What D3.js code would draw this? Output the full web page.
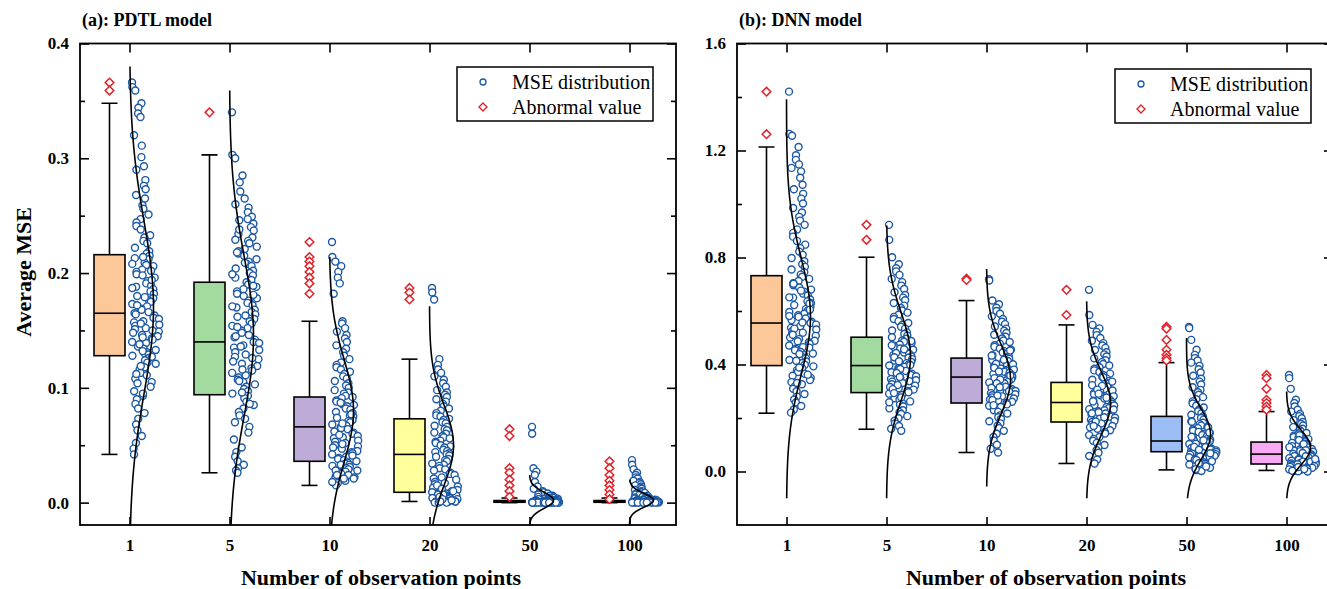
<!DOCTYPE html>
<html><head><meta charset="utf-8">
<script src="https://cdn.jsdelivr.net/npm/d3@7"></script>
<style>body{margin:0;background:#fff}svg{display:block}</style>
</head><body>
<svg id="c" width="1327" height="589"></svg>
<script>
// ---------------- DATA ----------------
const categories = ["1", "5", "10", "20", "50", "100"];
const boxColors = ["#FDC899", "#A2DA9F", "#BEACD8", "#FFFF9C", "#9DBEF4", "#F8A9F3"];

// (a) PDTL model
const pdtlWhiskerLow = [0.042, 0.026, 0.015, 0.001, 0.0, 0.0];
const pdtlQ1 = [0.128, 0.094, 0.036, 0.009, 0.0003, 0.0003];
const pdtlMedian = [0.165, 0.140, 0.066, 0.042, 0.0008, 0.0008];
const pdtlQ3 = [0.216, 0.192, 0.092, 0.073, 0.0018, 0.0018];
const pdtlWhiskerHigh = [0.348, 0.303, 0.158, 0.125, 0.004, 0.004];
const pdtlOutliers1 = [0.366, 0.359];
const pdtlOutliers5 = [0.340];
const pdtlOutliers10 = [0.227, 0.214, 0.210, 0.206, 0.201, 0.196, 0.191, 0.182];
const pdtlOutliers20 = [0.187, 0.183, 0.177];
const pdtlOutliers50 = [0.064, 0.058, 0.030, 0.026, 0.020, 0.015, 0.010, 0.005];
const pdtlOutliers100 = [0.036, 0.030, 0.024, 0.019, 0.015, 0.011, 0.007, 0.003];
const pdtlCurveMean = [0.170, 0.145, 0.080, 0.050, 0.002, 0.002];
const pdtlCurveSd = [0.075, 0.070, 0.045, 0.035, 0.007, 0.006];
const pdtlCurveTop = [0.380, 0.359, 0.214, 0.171, 0.024, 0.020];
const pdtlCurveBottom = [-0.0195, -0.0195, -0.0195, -0.0195, -0.0195, -0.0195];
const pdtlPts1 = [0.366,0.362,0.359,0.348,0.344,0.339,0.336,0.320,0.311,0.301,0.293,0.290,0.281,0.276,0.273,0.268,0.265,0.259,0.256,0.251,0.247,0.244,0.241,0.238,0.233,0.231,0.228,0.226,0.222,0.219,0.217,0.215,0.213,0.212,0.209,0.207,0.206,0.203,0.201,0.199,0.198,0.196,0.193,0.191,0.189,0.188,0.186,0.184,0.182,0.180,0.178,0.176,0.175,0.173,0.171,0.169,0.168,0.166,0.165,0.163,0.161,0.160,0.158,0.157,0.155,0.154,0.152,0.151,0.149,0.148,0.146,0.145,0.143,0.142,0.140,0.139,0.137,0.136,0.134,0.133,0.131,0.130,0.129,0.128,0.126,0.124,0.122,0.121,0.118,0.116,0.113,0.111,0.108,0.105,0.101,0.097,0.093,0.090,0.086,0.082,0.078,0.073,0.068,0.063,0.058,0.052,0.047,0.042,0.214,0.208,0.202,0.194,0.187,0.179,0.172,0.164,0.156,0.150,0.144,0.138,0.132,0.127,0.119,0.112,0.104,0.095];
const pdtlPts5 = [0.340,0.303,0.300,0.285,0.279,0.271,0.265,0.260,0.257,0.253,0.249,0.246,0.243,0.240,0.237,0.234,0.231,0.228,0.226,0.223,0.221,0.219,0.217,0.215,0.212,0.210,0.208,0.206,0.204,0.202,0.200,0.198,0.196,0.194,0.192,0.190,0.188,0.186,0.184,0.182,0.180,0.178,0.176,0.174,0.172,0.170,0.168,0.166,0.164,0.162,0.160,0.158,0.156,0.154,0.152,0.150,0.148,0.146,0.144,0.142,0.140,0.139,0.137,0.135,0.133,0.131,0.129,0.127,0.125,0.123,0.121,0.119,0.117,0.115,0.113,0.111,0.109,0.107,0.105,0.103,0.101,0.099,0.097,0.095,0.093,0.091,0.088,0.085,0.082,0.079,0.076,0.073,0.070,0.066,0.061,0.055,0.048,0.044,0.040,0.036,0.033,0.030,0.028,0.026,0.247,0.238,0.229,0.218,0.209,0.199,0.189,0.181,0.171,0.163,0.153,0.145,0.136,0.126,0.116,0.106,0.096,0.086];
const pdtlPts10 = [0.227,0.214,0.210,0.206,0.201,0.196,0.191,0.182,0.158,0.156,0.152,0.149,0.146,0.143,0.140,0.137,0.134,0.131,0.128,0.125,0.122,0.120,0.118,0.116,0.114,0.112,0.110,0.108,0.106,0.104,0.102,0.100,0.098,0.096,0.095,0.093,0.092,0.091,0.089,0.088,0.086,0.085,0.084,0.082,0.081,0.079,0.078,0.076,0.075,0.074,0.072,0.071,0.070,0.068,0.067,0.066,0.065,0.064,0.062,0.061,0.060,0.058,0.057,0.056,0.054,0.053,0.052,0.050,0.049,0.048,0.047,0.045,0.044,0.043,0.042,0.040,0.039,0.038,0.037,0.036,0.035,0.034,0.033,0.032,0.031,0.030,0.029,0.028,0.027,0.026,0.025,0.024,0.023,0.022,0.021,0.020,0.019,0.017,0.015,0.087,0.077,0.069,0.059,0.051,0.041,0.033,0.028,0.024,0.021,0.018];
const pdtlPts20 = [0.187,0.183,0.177,0.125,0.120,0.116,0.113,0.110,0.107,0.104,0.101,0.098,0.096,0.094,0.092,0.090,0.088,0.086,0.084,0.082,0.080,0.078,0.076,0.075,0.073,0.072,0.070,0.069,0.067,0.066,0.064,0.063,0.061,0.060,0.058,0.057,0.056,0.054,0.053,0.052,0.050,0.049,0.048,0.046,0.045,0.044,0.043,0.042,0.041,0.040,0.038,0.037,0.036,0.034,0.033,0.032,0.030,0.029,0.028,0.026,0.025,0.024,0.022,0.021,0.020,0.018,0.017,0.016,0.014,0.013,0.012,0.011,0.010,0.009,0.009,0.008,0.008,0.007,0.007,0.006,0.006,0.005,0.005,0.004,0.004,0.003,0.003,0.003,0.002,0.002,0.002,0.001,0.001,0.001,0.001,0.000,0.000,0.000,0.015,0.012,0.010,0.007,0.005,0.003,0.002,0.001];
const pdtlPts50 = [0.066,0.060,0.030,0.027,0.024,0.018,0.014,0.012,0.010,0.009,0.008,0.007,0.006,0.006,0.005,0.005,0.0045,0.004,0.004,0.0035,0.0035,0.003,0.003,0.003,0.0025,0.0025,0.0025,0.002,0.002,0.002,0.002,0.0018,0.0016,0.0015,0.0015,0.0014,0.0013,0.0012,0.0012,0.0011,0.001,0.001,0.001,0.0009,0.0009,0.0008,0.0008,0.0007,0.0007,0.0007,0.0006,0.0006,0.0006,0.0005,0.0005,0.0005,0.0005,0.0004,0.0004,0.0004,0.0004,0.0003,0.0003,0.0003,0.0003,0.0003,0.0002,0.0002,0.0002,0.0002,0.0002,0.0002,0.0001,0.0001,0.0001,0.0001,0.0001,0.0001,0,0,0,0,0,0];
const pdtlPts100 = [0.037,0.033,0.029,0.026,0.024,0.022,0.021,0.019,0.018,0.017,0.016,0.015,0.014,0.013,0.012,0.011,0.010,0.0095,0.009,0.0085,0.008,0.0075,0.007,0.0065,0.006,0.0055,0.005,0.005,0.0045,0.004,0.004,0.0035,0.0035,0.003,0.003,0.003,0.0025,0.0025,0.002,0.002,0.002,0.002,0.0018,0.0016,0.0015,0.0014,0.0013,0.0012,0.0011,0.001,0.001,0.0009,0.0009,0.0008,0.0008,0.0007,0.0007,0.0006,0.0006,0.0005,0.0005,0.0005,0.0004,0.0004,0.0004,0.0003,0.0003,0.0003,0.0003,0.0002,0.0002,0.0002,0.0002,0.0001,0.0001,0.0001,0.0001,0,0,0,0];
const pdtlMajorTicks = [0.0, 0.1, 0.2, 0.3, 0.4];
const pdtlMinorTicks = [0.05, 0.15, 0.25, 0.35];

// (b) DNN model
const dnnWhiskerLow = [0.218, 0.158, 0.071, 0.030, 0.006, 0.004];
const dnnQ1 = [0.396, 0.295, 0.256, 0.185, 0.074, 0.028];
const dnnMedian = [0.555, 0.396, 0.353, 0.258, 0.114, 0.065];
const dnnQ3 = [0.732, 0.502, 0.424, 0.333, 0.206, 0.110];
const dnnWhiskerHigh = [1.213, 0.801, 0.639, 0.548, 0.407, 0.224];
const dnnOutliers1 = [1.420, 1.261];
const dnnOutliers5 = [0.922, 0.866];
const dnnOutliers10 = [0.721, 0.716];
const dnnOutliers20 = [0.679, 0.585];
const dnnOutliers50 = [0.541, 0.534, 0.492, 0.455, 0.436, 0.424, 0.415];
const dnnOutliers100 = [0.361, 0.349, 0.309, 0.268, 0.256, 0.243, 0.231];
const dnnCurveMean = [0.58, 0.43, 0.345, 0.255, 0.14, 0.09];
const dnnCurveSd = [0.22, 0.165, 0.13, 0.12, 0.095, 0.065];
const dnnCurveTop = [1.392, 0.92, 0.757, 0.636, 0.499, 0.299];
const dnnCurveBottom = [-0.1, -0.1, -0.056, -0.1, -0.1, -0.1];
const dnnPts1 = [1.420,1.262,1.255,1.213,1.182,1.165,1.148,1.135,1.122,1.098,1.072,1.055,1.038,1.020,1.002,0.985,0.968,0.952,0.938,0.922,0.905,0.892,0.878,0.862,0.848,0.835,0.822,0.810,0.798,0.786,0.775,0.765,0.755,0.745,0.736,0.728,0.720,0.712,0.704,0.696,0.688,0.680,0.672,0.665,0.658,0.650,0.643,0.636,0.629,0.622,0.615,0.608,0.602,0.596,0.590,0.584,0.578,0.572,0.566,0.560,0.555,0.549,0.543,0.537,0.531,0.525,0.519,0.513,0.507,0.501,0.495,0.489,0.483,0.477,0.471,0.465,0.459,0.453,0.447,0.441,0.435,0.429,0.423,0.417,0.411,0.405,0.399,0.393,0.386,0.379,0.372,0.365,0.358,0.350,0.342,0.334,0.326,0.318,0.309,0.300,0.290,0.280,0.269,0.258,0.245,0.232,0.220,0.702,0.676,0.651,0.628,0.605,0.581,0.557,0.534,0.511,0.487,0.463,0.439,0.414,0.389,0.362,0.331];
const dnnPts5 = [0.922,0.866,0.801,0.775,0.760,0.748,0.735,0.720,0.708,0.695,0.682,0.670,0.660,0.650,0.640,0.630,0.620,0.611,0.602,0.594,0.586,0.578,0.570,0.562,0.555,0.548,0.541,0.534,0.527,0.520,0.514,0.508,0.502,0.496,0.490,0.485,0.480,0.475,0.470,0.465,0.460,0.455,0.450,0.445,0.440,0.435,0.430,0.425,0.420,0.415,0.410,0.405,0.400,0.396,0.391,0.386,0.381,0.376,0.371,0.366,0.361,0.356,0.351,0.346,0.341,0.336,0.331,0.326,0.321,0.316,0.311,0.306,0.301,0.296,0.291,0.286,0.280,0.274,0.268,0.262,0.256,0.250,0.243,0.236,0.229,0.222,0.215,0.207,0.199,0.190,0.180,0.170,0.160,0.152,0.488,0.472,0.457,0.443,0.427,0.412,0.398,0.383,0.368,0.353,0.338,0.323,0.308,0.293,0.277,0.259];
const dnnPts10 = [0.719,0.714,0.639,0.625,0.612,0.600,0.590,0.580,0.570,0.560,0.551,0.542,0.534,0.526,0.518,0.511,0.504,0.497,0.490,0.484,0.478,0.472,0.466,0.460,0.455,0.450,0.445,0.440,0.435,0.430,0.425,0.421,0.417,0.413,0.409,0.405,0.401,0.397,0.393,0.389,0.385,0.381,0.377,0.373,0.369,0.365,0.361,0.357,0.353,0.349,0.345,0.341,0.337,0.333,0.329,0.325,0.321,0.317,0.313,0.309,0.305,0.301,0.297,0.293,0.289,0.285,0.281,0.277,0.273,0.269,0.265,0.261,0.256,0.251,0.246,0.241,0.235,0.229,0.223,0.217,0.210,0.203,0.196,0.188,0.180,0.171,0.162,0.152,0.141,0.129,0.116,0.100,0.085,0.071,0.452,0.433,0.418,0.403,0.388,0.374,0.359,0.344,0.330,0.315,0.300,0.284,0.267,0.248];
const dnnPts20 = [0.679,0.585,0.548,0.535,0.522,0.510,0.499,0.489,0.480,0.471,0.462,0.454,0.446,0.438,0.430,0.423,0.416,0.409,0.402,0.396,0.390,0.384,0.378,0.372,0.366,0.360,0.354,0.348,0.343,0.338,0.333,0.328,0.323,0.318,0.313,0.308,0.303,0.298,0.293,0.289,0.285,0.281,0.277,0.273,0.269,0.265,0.261,0.257,0.253,0.249,0.245,0.241,0.237,0.233,0.229,0.225,0.221,0.217,0.213,0.209,0.205,0.201,0.197,0.193,0.189,0.185,0.180,0.175,0.170,0.165,0.160,0.154,0.148,0.142,0.136,0.129,0.122,0.115,0.107,0.099,0.090,0.080,0.070,0.058,0.045,0.030,0.352,0.336,0.320,0.306,0.291,0.276,0.262,0.247,0.232,0.218,0.203,0.187,0.170];
const dnnPts50 = [0.540,0.536,0.492,0.455,0.436,0.424,0.415,0.407,0.395,0.382,0.370,0.358,0.347,0.336,0.325,0.315,0.305,0.296,0.287,0.278,0.270,0.262,0.254,0.246,0.239,0.232,0.225,0.218,0.212,0.206,0.200,0.194,0.188,0.182,0.177,0.172,0.167,0.162,0.157,0.152,0.148,0.144,0.140,0.136,0.132,0.128,0.124,0.121,0.118,0.115,0.112,0.109,0.106,0.103,0.100,0.097,0.094,0.091,0.088,0.085,0.082,0.079,0.077,0.075,0.073,0.071,0.069,0.067,0.065,0.063,0.061,0.059,0.057,0.055,0.053,0.050,0.047,0.044,0.041,0.038,0.035,0.032,0.029,0.026,0.023,0.020,0.017,0.014,0.011,0.008,0.005,0.002,0.186,0.164,0.146,0.130,0.117,0.104,0.092,0.081,0.068,0.056,0.043,0.031,0.019,0.009];
const dnnPts100 = [0.361,0.349,0.309,0.268,0.256,0.243,0.231,0.224,0.215,0.207,0.199,0.192,0.185,0.178,0.172,0.166,0.160,0.154,0.149,0.144,0.139,0.134,0.129,0.125,0.121,0.117,0.113,0.110,0.107,0.104,0.101,0.098,0.095,0.092,0.089,0.086,0.084,0.082,0.080,0.078,0.076,0.074,0.072,0.070,0.068,0.066,0.064,0.062,0.060,0.058,0.056,0.054,0.052,0.050,0.048,0.046,0.044,0.042,0.040,0.038,0.036,0.034,0.032,0.030,0.028,0.026,0.024,0.022,0.020,0.018,0.016,0.014,0.012,0.010,0.008,0.006,0.004,0.002,0.001,0.000,0.135,0.118,0.103,0.091,0.079,0.069,0.057,0.047,0.037,0.027,0.017,0.009,0.003];
const dnnMajorTicks = [0.0, 0.4, 0.8, 1.2, 1.6];
const dnnMinorTicks = [0.2, 0.6, 1.0, 1.4];

const legendLabels = ["MSE distribution", "Abnormal value"];
const panelTitles = ["(a): PDTL model", "(b): DNN model"];
const xTitle = "Number of observation points";
const yTitle = "Average MSE";

// ---------------- DRAW ----------------
const FONT = "'Liberation Serif','Times New Roman',serif";
const PT_STROKE = "#1C58A3", OUT_STROKE = "#E0232B";
const TOP = 43.5, BOTTOM = 525;
const svg = d3.select("#c");
const defs = svg.append("defs");

// deterministic, irregular spread factor for the horizontal placement of points (layout only)
const spread = k => (k * k * 0.6180339887 + k * 0.4142135624) % 1;

function drawPanel(p) {
  const x = d3.scaleLinear().domain([-0.495, 5.465]).range([p.left, p.right]);
  const y = d3.scaleLinear().domain(p.yDomain).range([BOTTOM, TOP]);
  const g = svg.append("g");
  defs.append("clipPath").attr("id", "clip" + p.id)
    .append("rect").attr("x", p.left).attr("y", TOP).attr("width", p.right - p.left).attr("height", BOTTOM - TOP);
  const plot = g.append("g").attr("clip-path", `url(#clip${p.id})`);

  const boxW = 31, capW = 16, boxOff = -20;
  categories.forEach((c, i) => {
    const bx = x(i) + boxOff;
    const cg = plot.append("g");
    cg.append("line").attr("x1", bx).attr("x2", bx).attr("y1", y(p.whiskerLow[i])).attr("y2", y(p.q1[i]))
      .attr("stroke", "#000").attr("stroke-width", 1.6);
    cg.append("line").attr("x1", bx).attr("x2", bx).attr("y1", y(p.q3[i])).attr("y2", y(p.whiskerHigh[i]))
      .attr("stroke", "#000").attr("stroke-width", 1.6);
    [p.whiskerLow[i], p.whiskerHigh[i]].forEach(v => {
      cg.append("line").attr("x1", bx - capW / 2).attr("x2", bx + capW / 2).attr("y1", y(v)).attr("y2", y(v))
        .attr("stroke", "#000").attr("stroke-width", 1.6);
    });
    cg.append("rect").attr("x", bx - boxW / 2).attr("width", boxW)
      .attr("y", y(p.q3[i])).attr("height", Math.max(0.5, y(p.q1[i]) - y(p.q3[i])))
      .attr("fill", boxColors[i]).attr("stroke", "#000").attr("stroke-width", 1.6);
    cg.append("line").attr("x1", bx - boxW / 2).attr("x2", bx + boxW / 2).attr("y1", y(p.median[i])).attr("y2", y(p.median[i]))
      .attr("stroke", "#000").attr("stroke-width", 1.6);
    cg.selectAll("path.out").data(p.outliers[i]).join("path").attr("class", "out")
      .attr("d", "M0,-4.3L4.3,0L0,4.3L-4.3,0Z")
      .attr("transform", v => `translate(${bx},${y(v)})`)
      .attr("fill", "#fff").attr("stroke", OUT_STROKE).attr("stroke-width", 1.5);

    const vals = p.points[i];
    const ext = d3.extent(vals);
    const h = Math.max(1e-4, (ext[1] - ext[0]) * 0.06);
    const dens = v => d3.mean(vals, d => Math.exp(-0.5 * ((v - d) / h) ** 2));
    const dv = vals.map(dens);
    const dmax = d3.max(dv);
    cg.selectAll("circle").data(vals).join("circle")
      .attr("cx", (v, k) => x(i) + 2.5 + spread(k) * 28 * Math.max(0.05, Math.sqrt(dv[k] / dmax)))
      .attr("cy", v => y(v)).attr("r", 3.5)
      .attr("fill", "#fff").attr("stroke", PT_STROKE).attr("stroke-width", 1.4);

    const m = p.curveMean[i], s = p.curveSd[i];
    const lo = p.curveBottom[i], hi = p.curveTop[i];
    const steps = 120;
    const vs = d3.range(steps + 1).map(k => lo + (hi - lo) * k / steps);
    cg.append("path").datum(vs)
      .attr("d", d3.line().x(v => x(i) + 24 * Math.exp(-0.5 * ((v - m) / s) ** 2)).y(v => y(v)).curve(d3.curveBasis))
      .attr("fill", "none").attr("stroke", "#000").attr("stroke-width", 1.6);
  });

  const styleAxis = sel => {
    sel.select(".domain").remove();
    sel.selectAll("line").attr("stroke", "#000").attr("stroke-width", 1.6);
    sel.selectAll("text").attr("font-family", FONT).attr("font-weight", "bold").attr("font-size", 17).attr("fill", "#000");
  };
  g.append("g").attr("transform", `translate(${p.left},0)`)
    .call(d3.axisLeft(y).tickValues(p.majorTicks).tickFormat(d3.format(".1f")).tickSize(-9).tickPadding(11)).call(styleAxis);
  g.append("g").attr("transform", `translate(${p.left},0)`)
    .call(d3.axisLeft(y).tickValues(p.minorTicks).tickFormat("").tickSize(-5)).call(styleAxis);
  g.append("g").attr("transform", `translate(${p.right},0)`)
    .call(d3.axisRight(y).tickValues(p.majorTicks).tickFormat("").tickSize(-9)).call(styleAxis);
  g.append("g").attr("transform", `translate(${p.right},0)`)
    .call(d3.axisRight(y).tickValues(p.minorTicks).tickFormat("").tickSize(-5)).call(styleAxis);
  g.append("g").attr("transform", `translate(0,${TOP})`)
    .call(d3.axisTop(x).tickValues(d3.range(categories.length)).tickFormat("").tickSize(-9)).call(styleAxis);
  g.append("g").attr("transform", `translate(0,${BOTTOM})`)
    .call(d3.axisBottom(x).tickValues(d3.range(categories.length)).tickFormat(i => categories[i]).tickSize(-8).tickPadding(14)).call(styleAxis);

  g.append("rect").attr("x", p.left).attr("y", TOP).attr("width", p.right - p.left).attr("height", BOTTOM - TOP)
    .attr("fill", "none").attr("stroke", "#000").attr("stroke-width", 1.8);

  g.append("text").attr("x", p.left + 2).attr("y", 26).text(p.title)
    .attr("font-family", FONT).attr("font-weight", "bold").attr("font-size", 18);
  g.append("text").attr("x", p.titleX).attr("y", 585).attr("text-anchor", "middle").text(xTitle)
    .attr("font-family", FONT).attr("font-weight", "bold").attr("font-size", 22);

  const lg = g.append("g").attr("transform", `translate(${p.legendX},${p.legendY})`);
  lg.append("rect").attr("width", 196).attr("height", 54).attr("fill", "#fff").attr("stroke", "#000").attr("stroke-width", 1.5);
  lg.append("circle").attr("cx", 26).attr("cy", 15).attr("r", 3).attr("fill", "#fff").attr("stroke", PT_STROKE).attr("stroke-width", 1.3);
  lg.append("path").attr("d", "M0,-4L4,0L0,4L-4,0Z").attr("transform", "translate(26,40)")
    .attr("fill", "#fff").attr("stroke", OUT_STROKE).attr("stroke-width", 1.4);
  legendLabels.forEach((t, k) => {
    lg.append("text").attr("x", 55).attr("y", 15 + 25 * k).attr("dy", "0.35em").text(t)
      .attr("font-family", FONT).attr("font-size", 20).attr("fill", "#000");
  });
}

drawPanel({
  id: "a", left: 80, right: 676, yDomain: [-0.0195, 0.4], title: panelTitles[0], titleX: 381,
  whiskerLow: pdtlWhiskerLow, q1: pdtlQ1, median: pdtlMedian, q3: pdtlQ3, whiskerHigh: pdtlWhiskerHigh,
  outliers: [pdtlOutliers1, pdtlOutliers5, pdtlOutliers10, pdtlOutliers20, pdtlOutliers50, pdtlOutliers100],
  points: [pdtlPts1, pdtlPts5, pdtlPts10, pdtlPts20, pdtlPts50, pdtlPts100],
  curveMean: pdtlCurveMean, curveSd: pdtlCurveSd, curveTop: pdtlCurveTop, curveBottom: pdtlCurveBottom,
  majorTicks: pdtlMajorTicks, minorTicks: pdtlMinorTicks, legendX: 457, legendY: 67
});
drawPanel({
  id: "b", left: 737, right: 1333, yDomain: [-0.2, 1.6], title: panelTitles[1], titleX: 1046,
  whiskerLow: dnnWhiskerLow, q1: dnnQ1, median: dnnMedian, q3: dnnQ3, whiskerHigh: dnnWhiskerHigh,
  outliers: [dnnOutliers1, dnnOutliers5, dnnOutliers10, dnnOutliers20, dnnOutliers50, dnnOutliers100],
  points: [dnnPts1, dnnPts5, dnnPts10, dnnPts20, dnnPts50, dnnPts100],
  curveMean: dnnCurveMean, curveSd: dnnCurveSd, curveTop: dnnCurveTop, curveBottom: dnnCurveBottom,
  majorTicks: dnnMajorTicks, minorTicks: dnnMinorTicks, legendX: 1115, legendY: 69
});

svg.append("text").attr("transform", "translate(31,272) rotate(-90)").attr("text-anchor", "middle").text(yTitle)
  .attr("font-family", FONT).attr("font-weight", "bold").attr("font-size", 22);
</script>
</body></html>
